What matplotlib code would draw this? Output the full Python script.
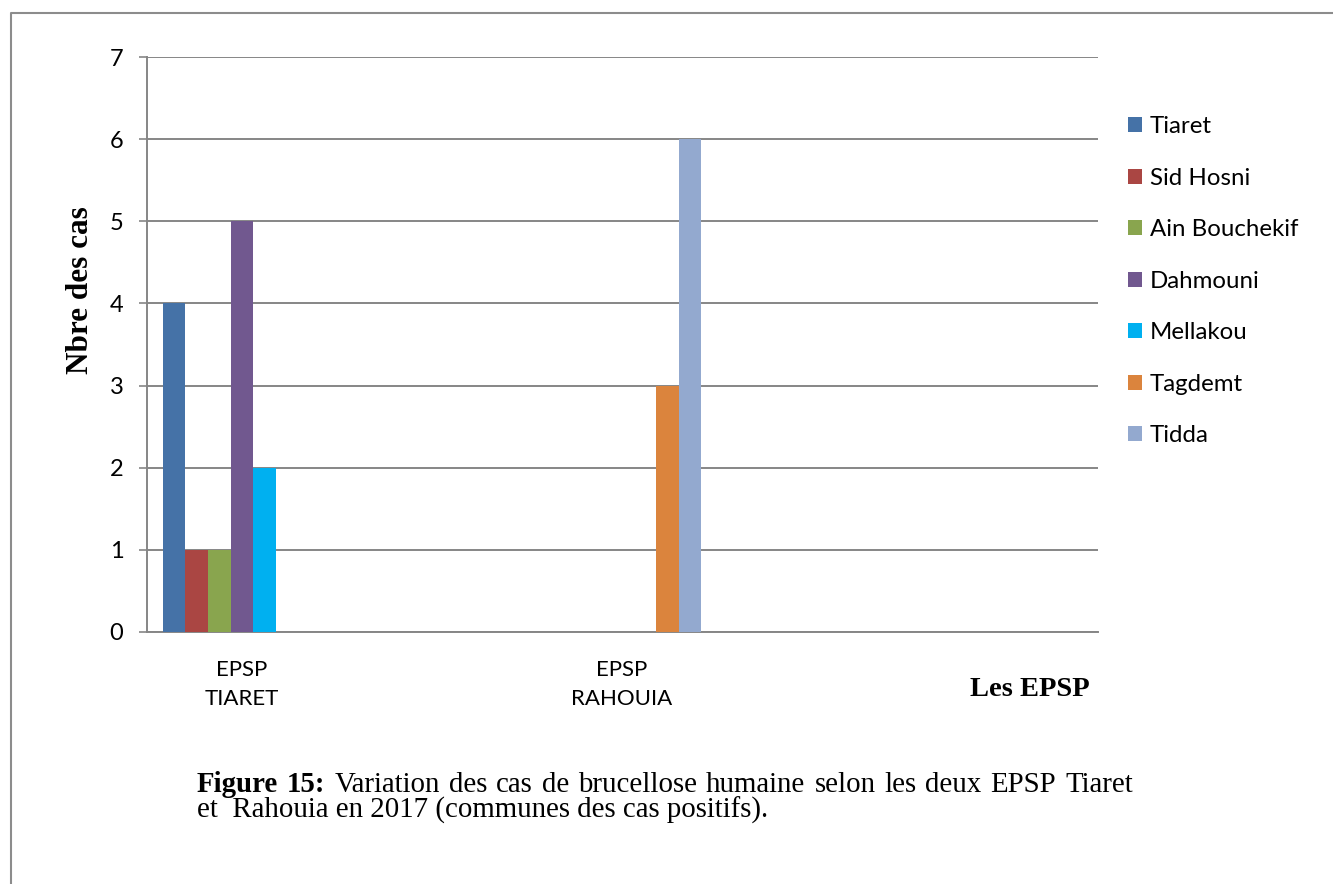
import matplotlib
matplotlib.use("Agg")
import matplotlib.pyplot as plt
from matplotlib.lines import Line2D
from matplotlib.patches import Patch
import numpy as np

# --- data -------------------------------------------------------------
categories = ["EPSP\nTIARET", "EPSP\nRAHOUIA"]
communes = ["Tiaret", "Sid Hosni", "Ain Bouchekif", "Dahmouni",
            "Mellakou", "Tagdemt", "Tidda"]
tiaret = [4, 0]
sid_hosni = [1, 0]
ain_bouchekif = [1, 0]
dahmouni = [5, 0]
mellakou = [2, 0]
tagdemt = [0, 3]
tidda = [0, 6]
series = [tiaret, sid_hosni, ain_bouchekif, dahmouni, mellakou, tagdemt, tidda]
colors = ["#4572A7", "#AA4643", "#89A54E", "#71588F",
          "#00B0F0", "#DB843D", "#93A9CF"]
y_ticks = list(range(0, 8))

W, H = 1333, 884
DPI = 100
fig = plt.figure(figsize=(W / DPI, H / DPI), dpi=DPI)
fig.patch.set_facecolor("white")

def fx(px):
    return px / W

def fy(py):
    return 1 - py / H

SANS = ["Lato", "DejaVu Sans"]
SERIF = ["Liberation Serif", "DejaVu Serif"]
GRID = "#868686"

# plot area
left, right, top, bottom = 147, 1098, 57, 632
ax = fig.add_axes([fx(left), fy(bottom), fx(right - left), (bottom - top) / H])

x = np.arange(len(categories))
bw = 0.0595
n = len(series)
for i, (vals, col, name) in enumerate(zip(series, colors, communes)):
    ax.bar(x + (i - (n - 1) / 2) * bw, vals, width=bw, color=col,
           label=name, zorder=3, linewidth=0)

ax.set_xlim(-0.25, 2.2526)
ax.set_ylim(0, 7)
ax.set_yticks(y_ticks)
ax.set_yticklabels([str(v) for v in y_ticks], family=SANS, fontsize=17)
ax.set_xticks(x)
ax.set_xticklabels(categories, family=SANS, fontsize=16, linespacing=1.6)
ax.tick_params(axis="x", length=0, pad=20)
ax.tick_params(axis="y", length=6, width=1.2, color=GRID, pad=11)

ax.grid(axis="y", color=GRID, linewidth=1.4, zorder=0)
for s in ["top", "right"]:
    ax.spines[s].set_visible(False)
ax.spines["left"].set_color(GRID)
ax.spines["left"].set_linewidth(1.4)
ax.spines["bottom"].set_color(GRID)
ax.spines["bottom"].set_linewidth(1.4)
ax.spines["left"].set_zorder(4)

# legend
handles = [Patch(facecolor=c, edgecolor="none") for c in colors]
fig.legend(handles, communes, loc="upper left",
           bbox_to_anchor=(fx(1128), fy(116)), frameon=False,
           prop={"family": SANS, "size": 17.3},
           handlelength=0.58, handleheight=0.58, handletextpad=0.33,
           labelspacing=1.27, borderaxespad=0, borderpad=0)

# axis titles
fig.text(fx(80), fy(290), "Nbre des cas", rotation=90, ha="center",
         va="center", family=SERIF, fontweight="bold", fontsize=22.5)
fig.text(fx(1090), fy(690), "Les EPSP", ha="right", va="center",
         family=SERIF, fontweight="bold", fontsize=20.5)

# caption: first line justified between x=197 and x=1133 px
CAP = 20.8
cap_left, cap_right = 197, 1133
base1, base2 = 792, 818
renderer = fig.canvas.get_renderer()
words = [("Figure", "bold"), ("15:", "bold")] + [
    (w, "normal") for w in
    "Variation des cas de brucellose humaine selon les deux EPSP Tiaret".split()]
artists = []
for w, wt in words:
    t = fig.text(0, fy(base1), w, ha="left", va="baseline", family=SERIF,
                 fontweight=wt, fontsize=CAP)
    artists.append(t)
fig.canvas.draw()
widths = [a.get_window_extent(renderer=renderer).width for a in artists]
gap = (cap_right - cap_left - sum(widths)) / (len(words) - 1)
xpos = cap_left
for a, wd in zip(artists, widths):
    a.set_x(fx(xpos))
    xpos += wd + gap
fig.text(fx(cap_left), fy(base2),
         "et  Rahouia en 2017 (communes des cas positifs).",
         ha="left", va="baseline", family=SERIF, fontsize=CAP)

# frame around the figure
fig.add_artist(Line2D([fx(10.5), fx(10.5), fx(W)], [0, fy(13), fy(13)],
                      transform=fig.transFigure, color="#8c8c8c",
                      linewidth=1.5))

fig.savefig("out.png", dpi=DPI, facecolor="white")
